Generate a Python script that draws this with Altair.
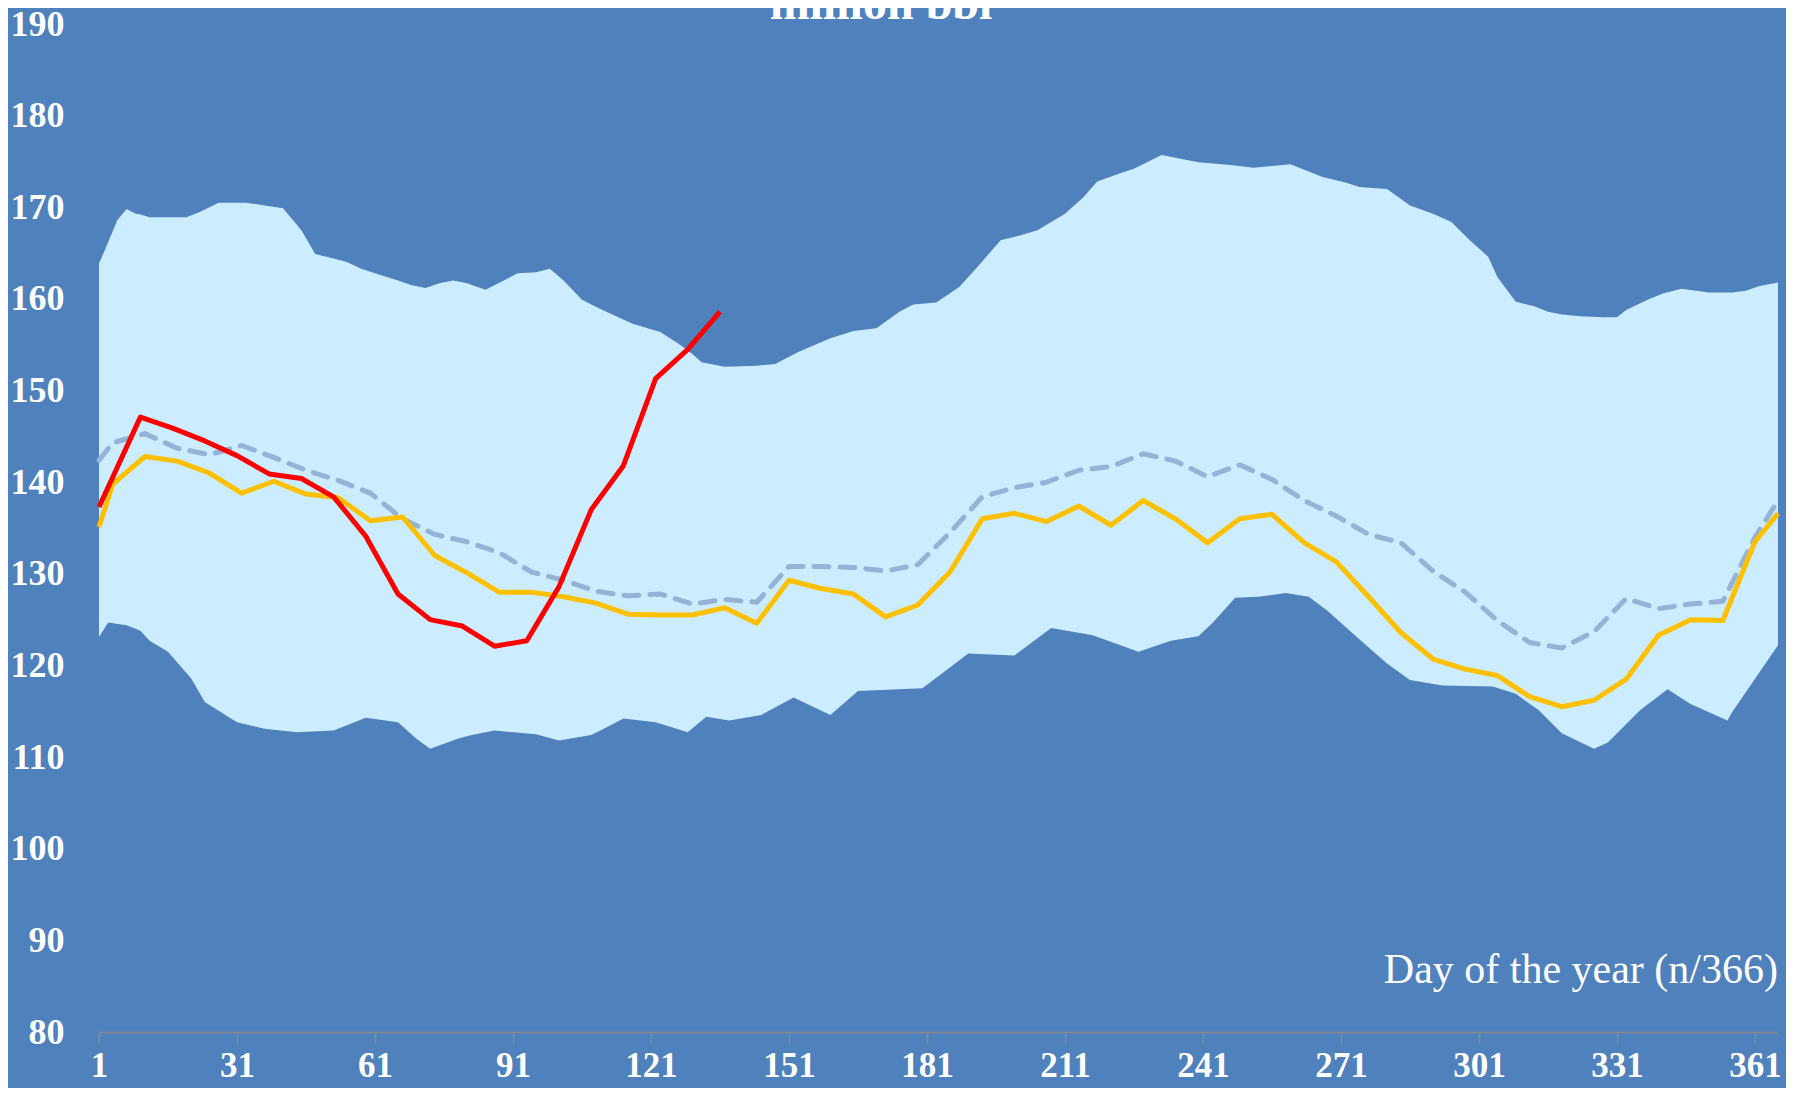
import altair as alt
import pandas as pd

# ---------------- data ----------------
tick_days = [1, 31, 61, 91, 121, 151, 181, 211, 241, 271, 301, 331, 361]
y_ticks = [80, 90, 100, 110, 120, 130, 140, 150, 160, 170, 180, 190]

upper_days = [1, 2, 3, 5, 7, 9, 10, 12, 20, 23, 27, 33, 37, 41, 45, 48, 52, 55, 58, 61,
              66, 69, 72, 75, 78, 81, 85, 89, 92, 96, 99, 102, 106, 110, 117, 123, 127, 130,
              132, 137, 144, 148, 153, 160, 165, 170, 175, 178, 183, 188, 192, 197, 201, 205,
              211, 215, 218, 223, 226, 232, 240, 247, 252, 256, 260, 267, 272, 275, 281, 286,
              291, 295, 299, 303, 305, 309, 313, 316, 319, 323, 328, 331, 333, 338, 341, 345,
              351, 356, 359, 362, 366]
upper_vals = [163.9, 165.0, 166.2, 168.6, 169.8, 169.3, 169.2, 168.9, 168.9, 169.5, 170.5, 170.5,
              170.2, 169.9, 167.5, 164.9, 164.4, 164.0, 163.3, 162.8, 162.0, 161.5, 161.2, 161.7,
              162.0, 161.7, 161.0, 162.0, 162.8, 162.9, 163.3, 162.0, 159.9, 158.9, 157.3, 156.4,
              155.1, 154.0, 153.1, 152.6, 152.7, 152.9, 154.2, 155.7, 156.5, 156.8, 158.6, 159.4,
              159.6, 161.3, 163.5, 166.4, 166.9, 167.5, 169.3, 171.1, 172.8, 173.7, 174.2, 175.7,
              174.9, 174.6, 174.3, 174.5, 174.7, 173.3, 172.7, 172.2, 172.0, 170.2, 169.3, 168.4,
              166.4, 164.6, 162.4, 159.7, 159.2, 158.6, 158.3, 158.1, 158.0, 158.0, 158.8, 160.0,
              160.6, 161.1, 160.7, 160.7, 160.9, 161.4, 161.8]

lower_days = [1, 3, 7, 10, 12, 16, 21, 24, 31, 37, 44, 52, 59, 66, 70, 73, 79, 82, 87, 96,
              101, 108, 110, 115, 122, 129, 133, 138, 145, 152, 160, 166, 180, 190, 200, 208,
              217, 227, 234, 240, 243, 248, 253, 259, 264, 268, 274, 281, 286, 293, 304, 309,
              314, 319, 326, 329, 336, 342, 347, 355, 356, 360, 366]
lower_vals = [123.1, 124.7, 124.4, 123.8, 122.7, 121.5, 118.6, 116.0, 113.8, 113.1, 112.7, 112.9,
              114.3, 113.8, 112.0, 110.9, 112.0, 112.4, 112.9, 112.5, 111.8, 112.4, 112.9, 114.2,
              113.8, 112.7, 114.4, 114.0, 114.6, 116.5, 114.6, 117.2, 117.5, 121.3, 121.1, 124.1,
              123.3, 121.5, 122.7, 123.2, 124.6, 127.4, 127.5, 127.9, 127.5, 126.0, 123.3, 120.2,
              118.4, 117.8, 117.7, 116.9, 115.1, 112.6, 110.9, 111.6, 115.1, 117.4, 115.8, 114.0,
              114.9, 117.8, 122.2]

week_days = [1, 4, 11, 18, 25, 32, 39, 46, 53, 60, 67, 74, 81, 88, 95, 102, 109, 116, 123, 130,
             137, 144, 151, 158, 165, 172, 179, 186, 193, 200, 207, 214, 221, 228, 235, 242, 249,
             256, 263, 270, 277, 284, 291, 298, 305, 312, 319, 326, 333, 340, 347, 354, 361, 366]
yellow_vals = [135.1, 139.8, 142.8, 142.3, 141.0, 138.8, 140.1, 138.7, 138.3, 135.8, 136.2, 132.0,
               130.1, 128.0, 128.0, 127.5, 126.8, 125.6, 125.5, 125.5, 126.3, 124.6, 129.3, 128.4,
               127.8, 125.3, 126.6, 130.2, 136.0, 136.6, 135.7, 137.4, 135.3, 138.0, 136.0, 133.4,
               136.0, 136.5, 133.4, 131.3, 127.5, 123.6, 120.7, 119.6, 118.9, 116.6, 115.5, 116.2,
               118.5, 123.3, 125.0, 124.9, 133.5, 136.6]
dashed_vals = [142.4, 144.3, 145.3, 143.7, 143.0, 144.0, 142.7, 141.3, 140.2, 138.8, 136.0, 134.3,
               133.5, 132.3, 130.2, 129.3, 128.1, 127.6, 127.8, 126.7, 127.2, 126.9, 130.8, 130.8,
               130.7, 130.3, 131.0, 134.5, 138.4, 139.4, 140.0, 141.3, 141.7, 143.1, 142.3, 140.6,
               141.9, 140.3, 138.0, 136.3, 134.3, 133.4, 130.3, 128.0, 124.9, 122.5, 121.9, 123.7,
               127.3, 126.2, 126.7, 127.0, 134.0, 138.0]

red_days = [1, 10, 17, 24, 31, 38, 45, 52, 59, 66, 73, 80, 87, 94, 101, 108, 115, 122, 129, 136]
red_vals = [137.3, 147.1, 145.9, 144.5, 142.9, 140.9, 140.4, 138.4, 134.1, 127.8, 125.0, 124.3,
            122.1, 122.7, 128.6, 137.0, 141.8, 151.3, 154.5, 158.6]

title_text = "million bbl"
xlabel_text = "Day of the year (n/366)"

# ---------------- styles ----------------
BG = "#4F81BD"
BAND = "#CCECFF"
FONT = "Liberation Serif"

upper_df = pd.DataFrame({"day": upper_days, "value": upper_vals})
lower_df = pd.DataFrame({"day": lower_days, "value": lower_vals})
week_df = pd.DataFrame({"day": week_days, "yellow": yellow_vals, "dashed": dashed_vals})
red_df = pd.DataFrame({"day": red_days, "value": red_vals})

x_scale = alt.Scale(domain=[1, 366], nice=False, zero=False)
y_scale = alt.Scale(domain=[80, 190], nice=False, zero=False)

x_axis = alt.Axis(values=tick_days, title=None, grid=False, domainColor="#8a8a8a",
                  domainWidth=1.5, tickColor="#8a8a8a", tickWidth=1.5, tickSize=11,
                  labelColor="white", labelFont=FONT, labelFontSize=35, labelFontWeight="bold",
                  labelPadding=5, labelFlush=False, labelOverlap=False, zindex=1)
y_axis = alt.Axis(values=y_ticks, title=None, grid=False, domain=False, ticks=False, tickSize=0,
                  labelColor="white", labelFont=FONT, labelFontSize=36, labelFontWeight="bold",
                  labelPadding=35, labelOverlap=False, zindex=1)


def X(field="day"):
    return alt.X(f"{field}:Q", scale=x_scale, axis=x_axis)


def Y(field="value"):
    return alt.Y(f"{field}:Q", scale=y_scale, axis=y_axis)


upper = alt.Chart(upper_df).mark_area(color=BAND, opacity=1).encode(
    x=X(), y=Y(), y2=alt.datum(80))
lower = alt.Chart(lower_df).mark_area(color=BG, opacity=1).encode(
    x=X(), y=Y(), y2=alt.datum(80))
dashed = alt.Chart(week_df).mark_line(color="#95B3D7", strokeWidth=5, strokeDash=[15, 11],
                                      strokeCap="round", strokeJoin="round").encode(
    x=X(), y=Y("dashed"))
yellow = alt.Chart(week_df).mark_line(color="#FFC000", strokeWidth=5, strokeJoin="round").encode(
    x=X(), y=Y("yellow"))
red = alt.Chart(red_df).mark_line(color="#FF0000", strokeWidth=5, strokeJoin="round").encode(
    x=X(), y=Y())

title_df = pd.DataFrame({"day": [171], "value": [190.5], "t": [title_text]})
title = alt.Chart(title_df).mark_text(color="white", font=FONT, fontSize=48, fontWeight="bold",
                                      align="center", baseline="alphabetic").encode(
    x=X(), y=Y(), text="t:N")

xl_df = pd.DataFrame({"day": [366], "value": [85.3], "t": [xlabel_text]})
xlabel = alt.Chart(xl_df).mark_text(color="white", font=FONT, fontSize=42,
                                    align="right", baseline="alphabetic").encode(
    x=X(), y=Y(), text="t:N")

chart = alt.layer(upper, lower, dashed, yellow, red, title, xlabel).properties(
    width=1679, height=1008,
    autosize=alt.AutoSizeParams(type="none"),
    padding={"left": 91, "top": 16, "right": 8, "bottom": 56},
    background=BG,
).configure_view(strokeWidth=0)

chart.save("out.html", embed_options={"renderer": "svg", "actions": False})
